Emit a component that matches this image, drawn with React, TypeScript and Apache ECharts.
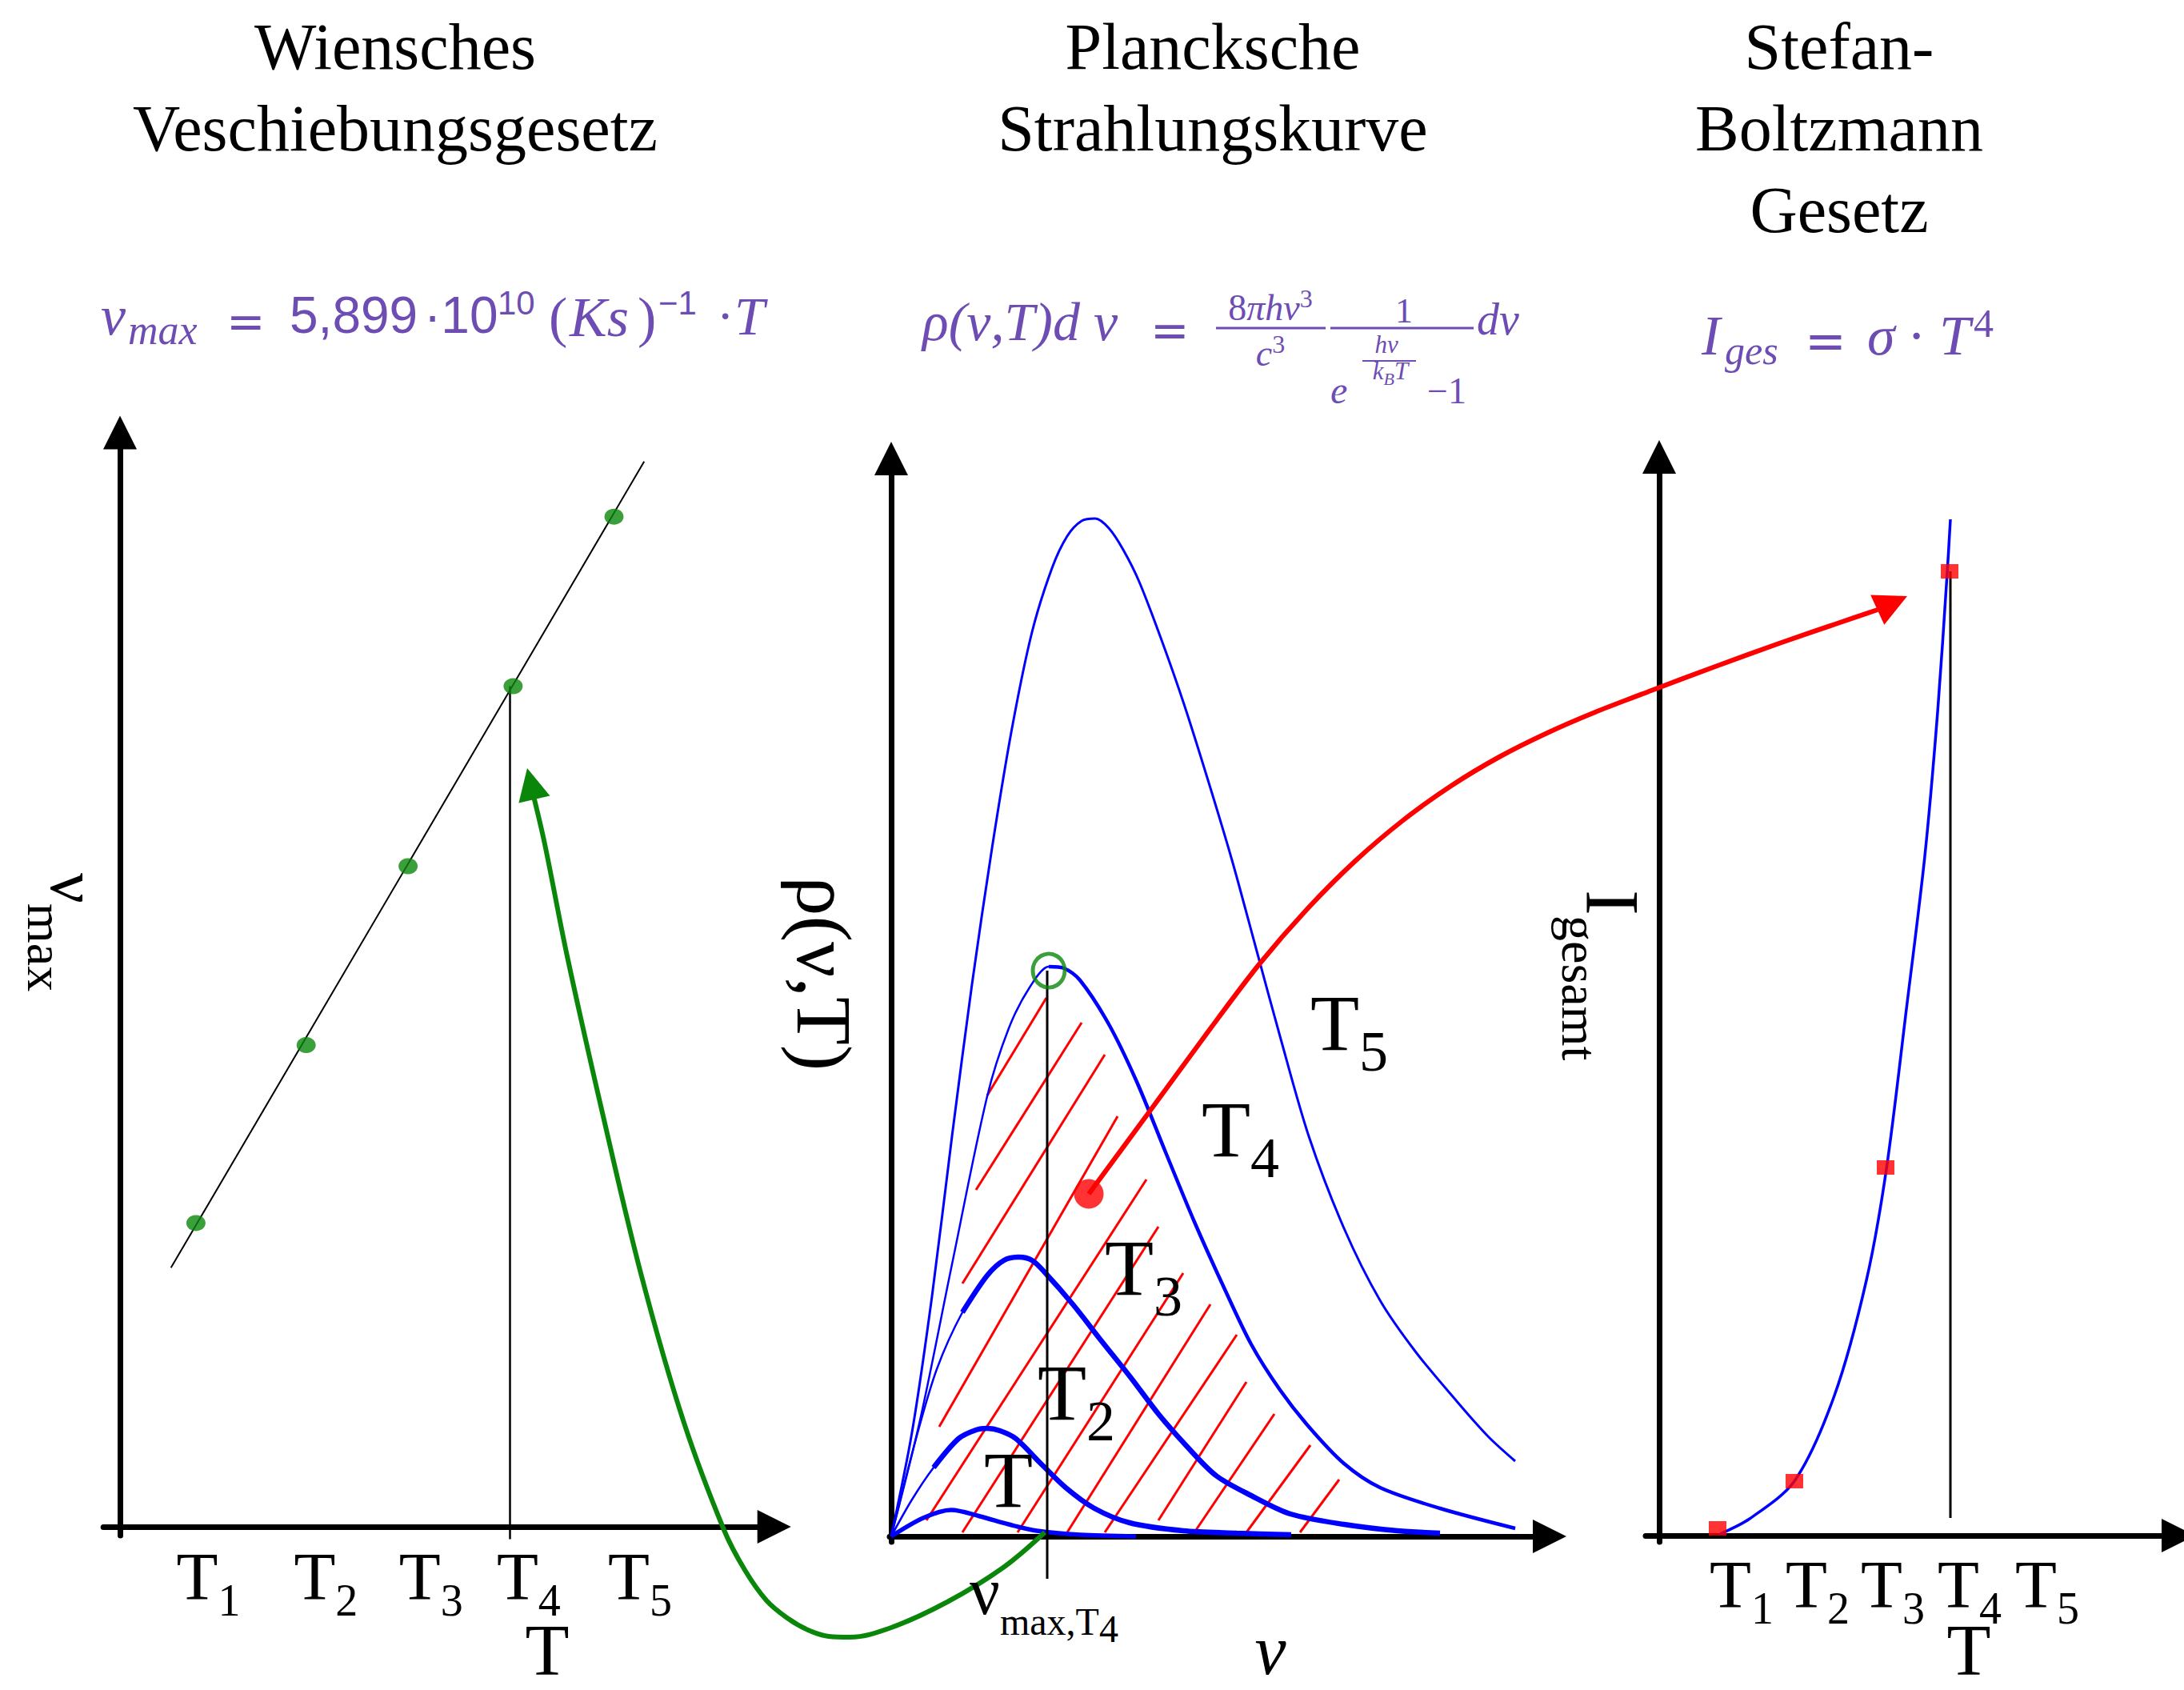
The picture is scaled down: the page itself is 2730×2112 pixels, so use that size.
import React, { useEffect, useRef } from "react";
import * as echarts from "echarts";

type Pt = [number, number];

// ---------------- values (arbitrary units) ----------------
const T_SUBSCRIPTS = ["1", "2", "3", "4", "5"];

// Wien panel: T (x) vs nu_max (y)
const WIEN_TICKS = [0.85, 1.98, 2.99, 3.93, 5.0];
const WIEN_POINTS: Pt[] = [[0.73, 2.92], [1.79, 4.63], [2.77, 6.35], [3.78, 8.08], [4.75, 9.71]];
const WIEN_FIT: Pt[] = [[0.49, 2.49], [5.04, 10.24]];
const WIEN_T4_DROP: Pt[] = [[3.75, -0.12], [3.75, 8.08]];

// Planck panel: nu (x) vs rho (y)
const PLANCK_T5: Pt[] = [[0, 0], [0.26, 1.3], [0.51, 3.0], [0.76, 5.0], [1.01, 6.9], [1.26, 8.6], [1.51, 10.1], [1.76, 11.3], [2.01, 12.1], [2.2, 12.5], [2.38, 12.69], [2.55, 12.72], [2.72, 12.6], [2.9, 12.33], [3.1, 11.93], [3.38, 11.2], [3.66, 10.4], [3.96, 9.45], [4.26, 8.45], [4.56, 7.35], [4.86, 6.25], [5.22, 5.0], [5.66, 3.85], [6.11, 2.95], [6.56, 2.3], [7.06, 1.7], [7.46, 1.25], [7.8, 0.94]];
const PLANCK_T4: Pt[] = [[0, 0], [0.36, 1.45], [0.76, 3.4], [1.2, 5.5], [1.47, 6.35], [1.73, 6.86], [1.97, 7.12], [2.16, 7.1], [2.36, 6.95], [2.72, 6.4], [3.07, 5.68], [3.43, 4.8], [3.79, 3.93], [4.15, 3.13], [4.5, 2.4], [4.86, 1.83], [5.22, 1.37], [5.66, 0.91], [6.11, 0.61], [6.86, 0.35], [7.8, 0.1]];
const PLANCK_T3: Pt[] = [[0, 0], [0.31, 1.22], [0.57, 2.09], [0.89, 2.8], [1.2, 3.26], [1.41, 3.45], [1.6, 3.49], [1.76, 3.45], [1.91, 3.31], [2.27, 2.9], [2.63, 2.44], [2.99, 1.99], [3.34, 1.53], [3.7, 1.12], [4.06, 0.76], [4.5, 0.51], [4.99, 0.28], [5.66, 0.15], [6.33, 0.07], [6.86, 0.04]];
const PLANCK_T2: Pt[] = [[0, 0], [0.26, 0.46], [0.53, 0.86], [0.84, 1.22], [1.06, 1.33], [1.2, 1.35], [1.36, 1.32], [1.56, 1.22], [1.87, 0.91], [2.18, 0.61], [2.54, 0.35], [2.98, 0.17], [3.65, 0.07], [4.32, 0.04], [5.0, 0.02]];
const PLANCK_T1: Pt[] = [[0, 0], [0.4, 0.23], [0.75, 0.33], [1.11, 0.25], [1.47, 0.15], [1.82, 0.07], [2.36, 0.02], [3.06, 0.0]];
const THICK_FROM = { t4: 6, t3: 3, t2: 2 }; // index where the drawn stroke gets heavier
const NU_MAX_T4_PEAK: Pt = [1.97, 7.07];
const NU_MAX_T4_DROP: Pt[] = [[1.95, 7.07], [1.95, -0.53]];
const RED_DOT: Pt = [2.47, 4.28];
const HATCH: [Pt, Pt][] = [
  [[1.2, 5.51], [1.94, 6.73]],
  [[1.06, 4.33], [2.38, 6.42]],
  [[0.89, 3.16], [2.67, 6.02]],
  [[0.6, 1.37], [2.83, 5.25]],
  [[0.44, 0.2], [3.19, 4.46]],
  [[0.89, 0.05], [3.34, 3.87]],
  [[1.58, 0.05], [3.65, 3.29]],
  [[2.2, 0.05], [3.99, 2.9]],
  [[2.67, 0.05], [4.32, 2.52]],
  [[3.34, 0.2], [4.44, 1.93]],
  [[3.79, 0.05], [4.79, 1.53]],
  [[4.44, 0.05], [5.24, 1.14]],
  [[5.11, 0.05], [5.6, 0.71]],
];
// connecting arrows, in the Planck panel's (nu, rho) units, running across the panels
const GREEN_ARROW: Pt[] = [[1.92, 0.05], [1.4, -0.39], [0.7, -0.82], [0.0, -1.14], [-0.52, -1.26], [-0.78, -1.25], [-1.04, -1.17], [-1.3, -1.02], [-1.56, -0.8], [-1.83, -0.42], [-2.09, 0.08], [-2.6, 1.45], [-3.12, 3.25], [-3.6, 5.25], [-4.05, 7.25], [-4.33, 8.65], [-4.47, 9.25]];
const GREEN_ARROW_TIP: Pt = [-4.55, 9.6];
const RED_ARROW: Pt[] = [[2.47, 4.28], [3.2, 5.27], [4.0, 6.36], [4.6, 7.15], [5.2, 7.84], [5.8, 8.44], [6.4, 8.95], [7.0, 9.38], [7.6, 9.74], [8.2, 10.04], [8.8, 10.3], [9.5, 10.57], [10.3, 10.87], [11.1, 11.16], [11.8, 11.4], [12.33, 11.58]];
const RED_ARROW_TIP: Pt = [12.7, 11.75];

// Stefan-Boltzmann panel: T (x) vs I (y)
const SB_TICKS = [1.03, 1.98, 2.92, 3.88, 4.85];
const SB_POINTS: Pt[] = [[0.73, 0.09], [1.69, 0.68], [2.83, 4.6], [3.63, 12.05]];
const SB_CURVE: Pt[] = [[0.76, 0.02], [1.13, 0.21], [1.69, 0.68], [2.19, 1.75], [2.59, 3.19], [2.84, 4.58], [3.09, 6.58], [3.32, 8.49], [3.48, 10.29], [3.6, 12.03], [3.64, 12.7]];
const SB_T4_DROP: Pt[] = [[3.64, 0.22], [3.64, 12.05]];

// ---------------- layout & style ----------------
const W = 2730;
const H = 2112;
const SERIF = "'Liberation Serif', 'DejaVu Serif', serif";
const SANS = "'Liberation Sans', 'DejaVu Sans', sans-serif";
const DSANS = "'DejaVu Sans', sans-serif";
const BLACK = "#000000";
const BLUE = "#0000ff";
const GREEN = "#0a870a";
const RED = "#ff0000";
const PURPLE = "#6d4db3";
const CENTRAL = 0.3375;

const PANELS = [
  { origin: [150, 1908], unit: 130, x: [-0.16, 6.29], y: [-0.085, 10.52] },
  { origin: [1114, 1920], unit: 100, x: [-0.02, 8.23], y: [-0.07, 13.47] },
  { origin: [2074, 1919], unit: 100, x: [-0.17, 6.49], y: [-0.08, 13.48] },
];
const OVERLAY = 3; // full-canvas cartesian sharing the Planck panel's scale

function axisLine() {
  return {
    show: true,
    onZero: true,
    symbol: ["none", "triangle"],
    symbolSize: [42, 42],
    lineStyle: { color: BLACK, width: 7 },
  };
}

function tickLabels(ticks: number[], margin: number) {
  return {
    show: true,
    customValues: ticks,
    margin,
    formatter: (v: number) => {
      const i = ticks.findIndex((p) => Math.abs(p - v) < 1e-6);
      return i >= 0 ? `{t|T}{s|${T_SUBSCRIPTS[i]}}` : "";
    },
    rich: {
      t: { fontFamily: SERIF, fontSize: 85, verticalAlign: "top", color: BLACK },
      s: { fontFamily: SERIF, fontSize: 56, verticalAlign: "top", padding: [44, 0, 0, 0], color: BLACK },
    },
  };
}

function lineSeries(data: Pt[], idx: number, color: string, width: number, z: number, smooth: number | boolean = 0.3) {
  return {
    type: "line",
    xAxisIndex: idx,
    yAxisIndex: idx,
    data,
    symbol: "none",
    showSymbol: false,
    smooth,
    clip: false,
    silent: true,
    z,
    lineStyle: { color, width },
  };
}

// straight last piece of an arrow whose triangle (centred on the segment end) puts its tip on `tip`
function arrowHeadSeries(last: Pt, tip: Pt, size: number, unit: number, color: string) {
  const sdx = tip[0] - last[0];
  const sdy = tip[1] - last[1];
  const L = Math.hypot(sdx, sdy) || 1;
  const end: Pt = [tip[0] - (sdx / L) * (size / 2) / unit, tip[1] - (sdy / L) * (size / 2) / unit];
  return {
    type: "lines",
    coordinateSystem: "cartesian2d",
    xAxisIndex: OVERLAY,
    yAxisIndex: OVERLAY,
    polyline: false,
    data: [{ coords: [last, end] }],
    symbol: ["none", "triangle"],
    symbolSize: [size, size],
    lineStyle: { color, width: 6, opacity: 1, curveness: 0 },
    z: 6,
    silent: true,
  };
}

function label(text: string, x: number, baseline: number, size: number, o: any = {}) {
  return {
    type: "text",
    x,
    y: baseline - CENTRAL * size,
    silent: true,
    z: 10,
    style: {
      text,
      fill: o.fill ?? BLACK,
      fontSize: size,
      fontFamily: o.family ?? SERIF,
      fontStyle: o.italic ? "italic" : "normal",
      align: o.align ?? "left",
      verticalAlign: "middle",
    },
  };
}

function tok(size: number, pad = 0, o: any = {}) {
  return {
    fontSize: size,
    fontFamily: o.family ?? SERIF,
    fontStyle: o.italic ? "italic" : "normal",
    fill: o.fill ?? BLACK,
    verticalAlign: "top",
    padding: [pad, 0, 0, 0],
  };
}

function richText(text: string, x: number, top: number, rich: any, o: any = {}) {
  return {
    type: "text",
    x,
    y: top,
    rotation: o.rotation ?? 0,
    silent: true,
    z: 10,
    style: { text, rich, align: o.align ?? "left", verticalAlign: "top", fill: o.fill ?? BLACK, fontFamily: SERIF },
  };
}

function hline(x1: number, x2: number, y: number, w: number) {
  return { type: "line", silent: true, z: 10, shape: { x1, y1: y, x2, y2: y }, style: { stroke: PURPLE, lineWidth: w } };
}

function buildOption() {
  const grid: any[] = PANELS.map((p) => ({
    left: p.origin[0] + p.x[0] * p.unit,
    top: p.origin[1] - p.y[1] * p.unit,
    width: (p.x[1] - p.x[0]) * p.unit,
    height: (p.y[1] - p.y[0]) * p.unit,
    containLabel: false,
    outerBoundsMode: "none",
  }));
  const xAxis: any[] = PANELS.map((p, i) => ({
    type: "value",
    gridIndex: i,
    min: p.x[0],
    max: p.x[1],
    axisLine: axisLine(),
    axisTick: { show: false },
    splitLine: { show: false },
    axisLabel: i === 1 ? { show: false } : tickLabels(i === 0 ? WIEN_TICKS : SB_TICKS, i === 0 ? 8.5 : 10.5),
  }));
  const yAxis: any[] = PANELS.map((p, i) => ({
    type: "value",
    gridIndex: i,
    min: p.y[0],
    max: p.y[1],
    axisLine: axisLine(),
    axisTick: { show: false },
    splitLine: { show: false },
    axisLabel: { show: false },
  }));
  // overlay cartesian with the Planck panel's scale, covering the whole canvas
  const mp = PANELS[1];
  grid.push({ left: 0, top: 0, width: W, height: H, containLabel: false, outerBoundsMode: "none" });
  xAxis.push({ type: "value", gridIndex: OVERLAY, show: false, min: -mp.origin[0] / mp.unit, max: (W - mp.origin[0]) / mp.unit, splitLine: { show: false } });
  yAxis.push({ type: "value", gridIndex: OVERLAY, show: false, min: -(H - mp.origin[1]) / mp.unit, max: mp.origin[1] / mp.unit, splitLine: { show: false } });

  const series: any[] = [
    // Wien
    lineSeries(WIEN_FIT, 0, BLACK, 2, 3, false),
    lineSeries(WIEN_T4_DROP, 0, BLACK, 2.5, 3, false),
    {
      type: "scatter", xAxisIndex: 0, yAxisIndex: 0, data: WIEN_POINTS, symbol: "circle",
      symbolSize: [24, 20], itemStyle: { color: GREEN }, z: 4, silent: true, clip: false,
    },
    // Planck hatch
    {
      type: "lines", coordinateSystem: "cartesian2d", xAxisIndex: 1, yAxisIndex: 1, polyline: false,
      data: HATCH.map(([a, b]) => ({ coords: [a, b] })),
      lineStyle: { color: RED, width: 3, opacity: 1, curveness: 0 }, z: 1, silent: true,
    },
    // Planck curves
    lineSeries(PLANCK_T5, 1, BLUE, 3, 2),
    lineSeries(PLANCK_T4, 1, BLUE, 2.5, 2),
    lineSeries(PLANCK_T4.slice(THICK_FROM.t4), 1, BLUE, 4.5, 2),
    lineSeries(PLANCK_T3, 1, BLUE, 2.5, 2),
    lineSeries(PLANCK_T3.slice(THICK_FROM.t3), 1, BLUE, 6.5, 2),
    lineSeries(PLANCK_T2, 1, BLUE, 2.5, 2),
    lineSeries(PLANCK_T2.slice(THICK_FROM.t2), 1, BLUE, 6.5, 2),
    lineSeries(PLANCK_T1, 1, BLUE, 5.5, 2),
    lineSeries(NU_MAX_T4_DROP, OVERLAY, BLACK, 3, 3, false),
    {
      type: "scatter", xAxisIndex: 1, yAxisIndex: 1, data: [NU_MAX_T4_PEAK], symbol: "circle",
      symbolSize: [40, 42], itemStyle: { color: "rgba(0,0,0,0)", borderColor: GREEN, borderWidth: 5 },
      z: 4, silent: true, clip: false,
    },
    {
      type: "scatter", xAxisIndex: 1, yAxisIndex: 1, data: [RED_DOT], symbol: "circle",
      symbolSize: 37, itemStyle: { color: RED }, z: 5, silent: true, clip: false,
    },
    // connecting arrows
    lineSeries(GREEN_ARROW, OVERLAY, GREEN, 6, 6, 0.35),
    arrowHeadSeries(GREEN_ARROW[GREEN_ARROW.length - 1], GREEN_ARROW_TIP, 40, mp.unit, GREEN),
    lineSeries(RED_ARROW, OVERLAY, RED, 6, 6, 0.3),
    arrowHeadSeries(RED_ARROW[RED_ARROW.length - 1], RED_ARROW_TIP, 41, mp.unit, RED),
    // Stefan-Boltzmann
    lineSeries(SB_CURVE, 2, BLUE, 3.5, 2),
    lineSeries(SB_T4_DROP, 2, BLACK, 3, 3, false),
    {
      type: "scatter", xAxisIndex: 2, yAxisIndex: 2, data: SB_POINTS, symbol: "rect",
      symbolSize: [22, 18], itemStyle: { color: RED }, z: 4, silent: true, clip: false,
    },
  ];

  const P = { fill: PURPLE };
  const tRich = { t: tok(100, 0), s: tok(72, 49.5) };
  const graphic: any[] = [
    // titles
    { type: "text", x: 494, y: 7, silent: true, style: { text: "Wiensches\nVeschiebungsgesetz", fontSize: 82, lineHeight: 102, fontFamily: SERIF, fill: BLACK, align: "center", verticalAlign: "top" } },
    { type: "text", x: 1516, y: 7, silent: true, style: { text: "Plancksche\nStrahlungskurve", fontSize: 82, lineHeight: 102, fontFamily: SERIF, fill: BLACK, align: "center", verticalAlign: "top" } },
    { type: "text", x: 2299, y: 7, silent: true, style: { text: "Stefan-\nBoltzmann\nGesetz", fontSize: 82, lineHeight: 102, fontFamily: SERIF, fill: BLACK, align: "center", verticalAlign: "top" } },

    // formula 1
    label("ν", 126, 418, 70, { ...P, italic: true }),
    label("max", 160, 430, 52, { ...P, italic: true }),
    label("=", 283, 422, 58, { ...P, family: DSANS }),
    label("5,899", 362, 416, 64, { ...P, family: SANS }),
    label("·10", 530, 416, 64, { ...P, family: SANS }),
    label("10", 622, 393, 42, { ...P, family: SANS }),
    label("(", 686, 420, 70, P),
    label("Ks", 712, 420, 70, { ...P, italic: true }),
    label(")", 797, 420, 70, P),
    label("−1", 823, 393, 42, { ...P, family: SANS }),
    label("·", 896, 416, 64, P),
    label("T", 918, 418, 68, { ...P, italic: true }),

    // formula 2
    label("ρ(ν,T)d ν", 1153, 425, 68, { ...P, italic: true }),
    label("=", 1438, 433, 58, { ...P, family: DSANS }),
    richText("{n|8}{i|πhν}{p|3}", 1588, 357.2, { n: tok(46, 4.3, P), i: tok(46, 4.3, { ...P, italic: true }), p: tok(32, 0, P) }, { align: "center" }),
    hline(1520, 1657, 410, 3),
    richText("{i|c}{p|3}", 1588, 414.2, { i: tok(46, 4.3, { ...P, italic: true }), p: tok(32, 0, P) }, { align: "center" }),
    label("1", 1755, 403, 44, { ...P, align: "center" }),
    hline(1663, 1842, 410, 3),
    label("hν", 1733, 441, 31, { ...P, italic: true, align: "center" }),
    hline(1703, 1770, 451, 2),
    richText("{i|k}{b|B}{i|T}", 1738, 447.5, { i: tok(31, 0, { ...P, italic: true }), b: tok(22, 15, { ...P, italic: true }) }, { align: "center" }),
    label("e", 1663, 504, 48, { ...P, italic: true }),
    label("−1", 1784, 504, 46, P),
    label("dν", 1846, 418, 56, { ...P, italic: true }),

    // formula 3
    label("I", 2127, 443, 70, { ...P, italic: true }),
    label("ges", 2156, 455, 50, { ...P, italic: true }),
    label("=", 2256, 447, 62, { ...P, family: DSANS }),
    label("σ", 2334, 443, 70, { ...P, italic: true }),
    label("·", 2384, 443, 70, P),
    label("T", 2424, 443, 70, { ...P, italic: true }),
    label("4", 2467, 421, 50, P),

    // axis titles
    richText("{v|ν}{s|max}", 134, 1091, { v: tok(84, 0), s: tok(64, 45.8) }, { rotation: -Math.PI / 2 }),
    { type: "text", x: 1030, y: 1217, rotation: -Math.PI / 2, silent: true, z: 10, style: { text: "ρ(ν,T)", fontSize: 98, fontFamily: SERIF, fill: BLACK, align: "center", verticalAlign: "middle" } },
    richText("{a|I}{s|gesamt}", 2063.5, 1112, { a: tok(96, 0), s: tok(64, 56.8) }, { rotation: -Math.PI / 2 }),
    label("T", 684, 2093, 90, { align: "center" }),
    label("T", 2461, 2093, 90, { align: "center" }),
    label("ν", 1588, 2092, 88, { align: "center", italic: true }),
    richText("{v|ν}{s|max,T}{q|4}", 1212, 1946.6, { v: tok(84, 0), s: tok(48, 56.15), q: tok(48, 65.15) }),

    // curve labels in the Planck panel
    richText("{t|T}{s|5}", 1638, 1228.75, tRich),
    richText("{t|T}{s|4}", 1502, 1361.75, tRich),
    richText("{t|T}{s|3}", 1381, 1534.75, tRich),
    richText("{t|T}{s|2}", 1297, 1690.75, tRich),
    richText("{t|T}", 1230, 1799.75, tRich),
  ];

  return {
    animation: false,
    backgroundColor: "#ffffff",
    grid,
    xAxis,
    yAxis,
    series,
    graphic: { elements: graphic },
  };
}

export default function App() {
  const ref = useRef<HTMLDivElement>(null);
  useEffect(() => {
    document.body.style.margin = "0";
    const chart = echarts.init(ref.current as HTMLDivElement, undefined, { renderer: "svg", width: W, height: H });
    chart.setOption(buildOption() as any);
    return () => chart.dispose();
  }, []);
  return <div ref={ref} style={{ width: W, height: H, background: "#fff" }} />;
}
